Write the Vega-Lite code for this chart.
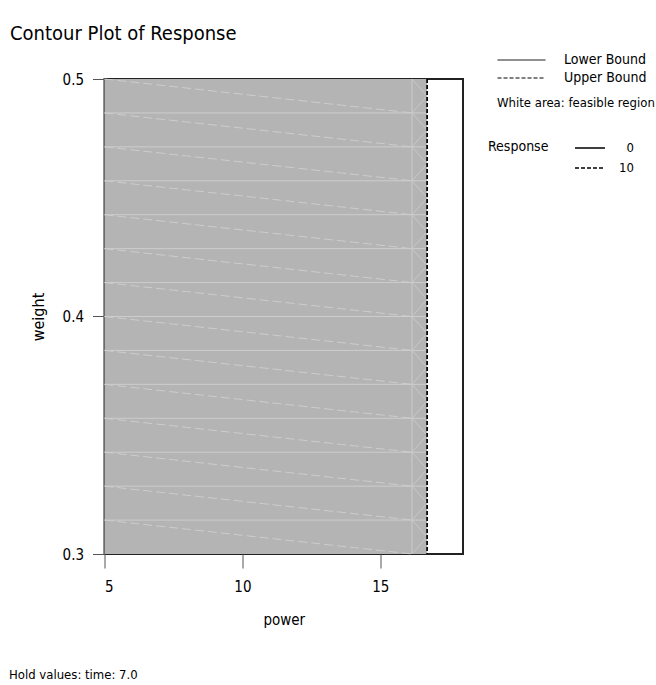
{
  "$schema": "https://vega.github.io/schema/vega-lite/v6.json",
  "width": 358.5,
  "height": 475,
  "autosize": {"type": "none"},
  "padding": {"left": 104.5, "top": 79, "right": 193, "bottom": 131},
  "background": "white",
  "title": {"text": "Contour Plot of Response", "anchor": "start", "frame": "group", "dx": -94.5, "offset": 0, "dy": 8, "fontSize": 20, "fontWeight": "normal", "color": "black", "baseline": "alphabetic"},
  "datasets": {
    "region": [{"p0": 5, "p1": 16.7, "hold": "Hold values: time: 7.0"}],
    "hlines": [
      {"p0": 5, "p1": 16.7, "w": 0.314286},
      {"p0": 5, "p1": 16.7, "w": 0.328571},
      {"p0": 5, "p1": 16.7, "w": 0.342857},
      {"p0": 5, "p1": 16.7, "w": 0.357143},
      {"p0": 5, "p1": 16.7, "w": 0.371429},
      {"p0": 5, "p1": 16.7, "w": 0.385714},
      {"p0": 5, "p1": 16.7, "w": 0.4},
      {"p0": 5, "p1": 16.7, "w": 0.414286},
      {"p0": 5, "p1": 16.7, "w": 0.428571},
      {"p0": 5, "p1": 16.7, "w": 0.442857},
      {"p0": 5, "p1": 16.7, "w": 0.457143},
      {"p0": 5, "p1": 16.7, "w": 0.471429},
      {"p0": 5, "p1": 16.7, "w": 0.485714}
    ],
    "diags": [
      {"p0": 5, "w0": 0.314286, "p1": 16.15, "w1": 0.3},
      {"p0": 5, "w0": 0.328571, "p1": 16.15, "w1": 0.314286},
      {"p0": 5, "w0": 0.342857, "p1": 16.15, "w1": 0.328571},
      {"p0": 5, "w0": 0.357143, "p1": 16.15, "w1": 0.342857},
      {"p0": 5, "w0": 0.371429, "p1": 16.15, "w1": 0.357143},
      {"p0": 5, "w0": 0.385714, "p1": 16.15, "w1": 0.371429},
      {"p0": 5, "w0": 0.4, "p1": 16.15, "w1": 0.385714},
      {"p0": 5, "w0": 0.414286, "p1": 16.15, "w1": 0.4},
      {"p0": 5, "w0": 0.428571, "p1": 16.15, "w1": 0.414286},
      {"p0": 5, "w0": 0.442857, "p1": 16.15, "w1": 0.428571},
      {"p0": 5, "w0": 0.457143, "p1": 16.15, "w1": 0.442857},
      {"p0": 5, "w0": 0.471429, "p1": 16.15, "w1": 0.457143},
      {"p0": 5, "w0": 0.485714, "p1": 16.15, "w1": 0.471429},
      {"p0": 5, "w0": 0.5, "p1": 16.15, "w1": 0.485714}
    ],
    "zigzag": [
      {"p0": 16.15, "w0": 0.3, "p1": 16.7, "w1": 0.307143},
      {"p0": 16.15, "w0": 0.314286, "p1": 16.7, "w1": 0.307143},
      {"p0": 16.15, "w0": 0.314286, "p1": 16.7, "w1": 0.321429},
      {"p0": 16.15, "w0": 0.328571, "p1": 16.7, "w1": 0.321429},
      {"p0": 16.15, "w0": 0.328571, "p1": 16.7, "w1": 0.335714},
      {"p0": 16.15, "w0": 0.342857, "p1": 16.7, "w1": 0.335714},
      {"p0": 16.15, "w0": 0.342857, "p1": 16.7, "w1": 0.35},
      {"p0": 16.15, "w0": 0.357143, "p1": 16.7, "w1": 0.35},
      {"p0": 16.15, "w0": 0.357143, "p1": 16.7, "w1": 0.364286},
      {"p0": 16.15, "w0": 0.371429, "p1": 16.7, "w1": 0.364286},
      {"p0": 16.15, "w0": 0.371429, "p1": 16.7, "w1": 0.378571},
      {"p0": 16.15, "w0": 0.385714, "p1": 16.7, "w1": 0.378571},
      {"p0": 16.15, "w0": 0.385714, "p1": 16.7, "w1": 0.392857},
      {"p0": 16.15, "w0": 0.4, "p1": 16.7, "w1": 0.392857},
      {"p0": 16.15, "w0": 0.4, "p1": 16.7, "w1": 0.407143},
      {"p0": 16.15, "w0": 0.414286, "p1": 16.7, "w1": 0.407143},
      {"p0": 16.15, "w0": 0.414286, "p1": 16.7, "w1": 0.421429},
      {"p0": 16.15, "w0": 0.428571, "p1": 16.7, "w1": 0.421429},
      {"p0": 16.15, "w0": 0.428571, "p1": 16.7, "w1": 0.435714},
      {"p0": 16.15, "w0": 0.442857, "p1": 16.7, "w1": 0.435714},
      {"p0": 16.15, "w0": 0.442857, "p1": 16.7, "w1": 0.45},
      {"p0": 16.15, "w0": 0.457143, "p1": 16.7, "w1": 0.45},
      {"p0": 16.15, "w0": 0.457143, "p1": 16.7, "w1": 0.464286},
      {"p0": 16.15, "w0": 0.471429, "p1": 16.7, "w1": 0.464286},
      {"p0": 16.15, "w0": 0.471429, "p1": 16.7, "w1": 0.478571},
      {"p0": 16.15, "w0": 0.485714, "p1": 16.7, "w1": 0.478571},
      {"p0": 16.15, "w0": 0.485714, "p1": 16.7, "w1": 0.492857},
      {"p0": 16.15, "w0": 0.5, "p1": 16.7, "w1": 0.492857}
    ],
    "vline": [{"p": 16.15}],
    "response": [{"response": "10", "power": 16.7}],
    "bounds": [{"bound": "Upper Bound", "power": 16.7}]
  },
  "layer": [
    {
      "data": {"name": "region"},
      "mark": {"type": "rect", "strokeWidth": 0},
      "encoding": {
        "x": {"field": "p0", "type": "quantitative", "scale": {"domain": [5, 18], "nice": false, "zero": false},
          "axis": {"values": [5, 10, 15], "title": "power", "grid": false, "domain": false, "tickSize": 14, "tickColor": "#555", "labelFontSize": 15, "labelPadding": 11, "titleFontSize": 15, "titlePadding": 18}},
        "x2": {"field": "p1"},
        "y": {"datum": 0.3, "type": "quantitative", "scale": {"domain": [0.3, 0.5], "nice": false, "zero": false},
          "axis": {"values": [0.3, 0.4, 0.5], "format": ".1f", "title": "weight", "grid": false, "domain": false, "tickSize": 12, "tickColor": "#555", "labelFontSize": 15, "labelPadding": 9, "titleFontSize": 16, "titlePadding": 16}},
        "y2": {"datum": 0.5},
        "fill": {"field": "hold", "type": "nominal", "scale": {"range": ["#b4b4b4"]},
          "legend": {"orient": "none", "legendX": -108.5, "legendY": 589, "title": null, "symbolOpacity": 0, "symbolSize": 0, "symbolStrokeWidth": 0, "labelOffset": 0, "labelFontSize": 13, "padding": 0}}
      }
    },
    {
      "data": {"name": "hlines"},
      "mark": {"type": "rule", "color": "#cdcdcd", "strokeWidth": 1},
      "encoding": {
        "x": {"field": "p0", "type": "quantitative"},
        "x2": {"field": "p1"},
        "y": {"field": "w", "type": "quantitative"}
      }
    },
    {
      "data": {"name": "diags"},
      "mark": {"type": "rule", "color": "#cdcdcd", "strokeWidth": 1, "strokeDash": [9, 4]},
      "encoding": {
        "x": {"field": "p0", "type": "quantitative"},
        "x2": {"field": "p1"},
        "y": {"field": "w0", "type": "quantitative"},
        "y2": {"field": "w1"}
      }
    },
    {
      "data": {"name": "zigzag"},
      "mark": {"type": "rule", "color": "#cdcdcd", "strokeWidth": 0.8},
      "encoding": {
        "x": {"field": "p0", "type": "quantitative"},
        "x2": {"field": "p1"},
        "y": {"field": "w0", "type": "quantitative"},
        "y2": {"field": "w1"}
      }
    },
    {
      "data": {"name": "vline"},
      "mark": {"type": "rule", "color": "#cdcdcd", "strokeWidth": 1},
      "encoding": {
        "x": {"field": "p", "type": "quantitative"}
      }
    },
    {
      "data": {"name": "response"},
      "mark": {"type": "rule", "color": "black", "strokeWidth": 1.3},
      "encoding": {
        "x": {"field": "power", "type": "quantitative"},
        "strokeDash": {"field": "response", "type": "nominal", "scale": {"domain": ["0", "10"], "range": [[1, 0], [4, 2]]},
          "legend": {"orient": "none", "legendX": 383.5, "legendY": 61, "title": "Response", "titleOrient": "left", "titleAnchor": "start", "titleBaseline": "top", "titleFontSize": 14, "titlePadding": 25, "symbolType": "stroke", "symbolSize": 900, "symbolStrokeWidth": 1.5, "symbolStrokeColor": "black", "clipHeight": 16, "labelOffset": 28, "labelAlign": "right", "labelFontSize": 13, "rowPadding": 4, "padding": 0}}
      }
    },
    {
      "data": {"name": "bounds"},
      "mark": {"type": "rule", "color": "black", "strokeWidth": 1.3},
      "encoding": {
        "x": {"field": "power", "type": "quantitative"},
        "strokeDash": {"field": "bound", "type": "nominal", "scale": {"domain": ["Lower Bound", "Upper Bound"], "range": [[1, 0], [4, 2]]},
          "legend": {"orient": "none", "legendX": 392.5, "legendY": -27, "title": "White area: feasible region", "titleOrient": "bottom", "titleFontSize": 13, "titlePadding": 11, "symbolType": "stroke", "symbolSize": 2304, "symbolStrokeWidth": 1, "symbolStrokeColor": "black", "clipHeight": 16, "labelOffset": 18, "labelFontSize": 14, "rowPadding": 2, "padding": 0}}
      }
    }
  ],
  "resolve": {"scale": {"strokeDash": "independent"}, "legend": {"strokeDash": "independent"}},
  "config": {
    "font": "DejaVu Sans Condensed, Liberation Sans, sans-serif",
    "view": {"stroke": "#222", "strokeWidth": 2},
    "axis": {"labelColor": "black", "titleColor": "black", "titleFontWeight": "normal"},
    "legend": {"labelColor": "black", "titleColor": "black", "titleFontWeight": "normal", "labelLimit": 300, "titleLimit": 300}
  }
}
